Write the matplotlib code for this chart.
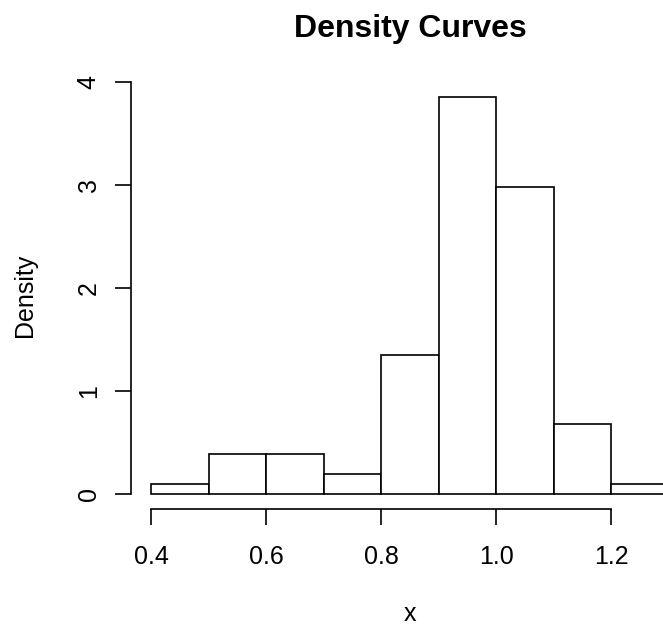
import matplotlib
matplotlib.use("Agg")
import matplotlib.pyplot as plt

# Data
bin_edges = [0.4, 0.5, 0.6, 0.7, 0.8, 0.9, 1.0, 1.1, 1.2, 1.3]
density = [0.096, 0.385, 0.385, 0.192, 1.346, 3.846, 2.981, 0.673, 0.096]
x_ticks = [0.4, 0.6, 0.8, 1.0, 1.2]
x_tick_labels = ["0.4", "0.6", "0.8", "1.0", "1.2"]
y_ticks = [0, 1, 2, 3, 4]
y_tick_labels = ["0", "1", "2", "3", "4"]

plt.rcParams['font.family'] = ['Liberation Sans', 'DejaVu Sans']

W, H = 663, 627
fig = plt.figure(figsize=(W / 100, H / 100), dpi=100)
left_px, right_px = 130.6, 689.5
top_px, bottom_px = 81.6, 509.4
ax = fig.add_axes([left_px / W, (H - bottom_px) / H,
                   (right_px - left_px) / W, (bottom_px - top_px) / H])

widths = [bin_edges[i + 1] - bin_edges[i] for i in range(len(density))]
ax.bar(bin_edges[:-1], density, width=widths, align='edge',
       facecolor='white', edgecolor='black', linewidth=1.2)

ax.set_xlim(0.364, 1.336)
ax.set_ylim(-0.1538, 4.0)

for s in ['top', 'right']:
    ax.spines[s].set_visible(False)
ax.spines['left'].set_bounds(0, 4)
ax.spines['bottom'].set_bounds(0.4, 1.2)
for s in ['left', 'bottom']:
    ax.spines[s].set_linewidth(1.2)

ax.set_xticks(x_ticks)
ax.set_xticklabels(x_tick_labels)
ax.set_yticks(y_ticks)
ax.set_yticklabels(y_tick_labels, rotation=90, va='center')
ax.tick_params(axis='both', direction='out', length=11.5, width=1.2,
               labelsize=18, colors='black')
ax.tick_params(axis='x', pad=14)
ax.tick_params(axis='y', pad=10)

fig.text(410 / W, 1 - 37 / H, "Density Curves", ha='center', va='baseline',
         fontsize=23, fontweight='bold')
fig.text(410 / W, 1 - 621 / H, "x", ha='center', va='baseline', fontsize=18)
fig.text(25 / W, 1 - 295 / H, "Density", ha='center', va='center',
         rotation=90, fontsize=18)

fig.savefig("out.png", dpi=100)
